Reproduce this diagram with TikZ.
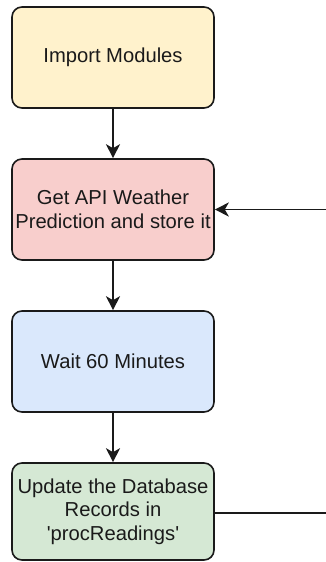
\documentclass[tikz,border=0pt]{standalone}
\usepackage{fontspec}
\setmainfont{Liberation Sans}
% same face, without TeX quote ligatures, for straight apostrophes
\setmonofont{Liberation Sans}
\usetikzlibrary{arrows.meta}
\definecolor{fillyellow}{HTML}{FFF2CC}
\definecolor{fillred}{HTML}{F8CECC}
\definecolor{fillblue}{HTML}{DAE8FC}
\definecolor{fillgreen}{HTML}{D5E8D4}
\definecolor{strokedark}{HTML}{1A1A1A}
\newcommand{\straightquote}{{\ttfamily\symbol{39}}}
\begin{document}
\begin{tikzpicture}[x=1pt,y=-1pt,
  stepbox/.style={draw=strokedark, line width=1.6pt, rounded corners=10pt,
    minimum width=202pt, minimum height=101pt, inner sep=0pt, align=center,
    font=\fontsize{20.2}{23.5}\selectfont, text=strokedark},
  flow/.style={draw=strokedark, line width=1.6pt,
    -{Stealth[length=14pt,width=14pt,inset=4pt]}}]
\useasboundingbox (0,0) rectangle (325,562);
\node[stepbox, fill=fillyellow] (imp) at (113,57.5) {Import Modules};
\node[stepbox, fill=fillred] (api) at (113,209.5) {Get API Weather\\Prediction and store it};
\node[stepbox, fill=fillblue] (wait) at (113,361.5) {Wait 60 Minutes};
\node[stepbox, fill=fillgreen, minimum height=97pt] (upd) at (113,511.5) {Update the Database\\Records in\\\straightquote procReadings\straightquote};
\coordinate (loopin) at (326,209.5);
\coordinate (loopout) at (326,513);
\draw[flow] (imp) -- (api);
\draw[flow] (api) -- (wait);
\draw[flow] (wait) -- (upd);
\draw[flow] (loopin) -- (api.east |- loopin);
\draw[draw=strokedark, line width=1.6pt] (upd.east |- loopout) -- (loopout);
\end{tikzpicture}
\end{document}
